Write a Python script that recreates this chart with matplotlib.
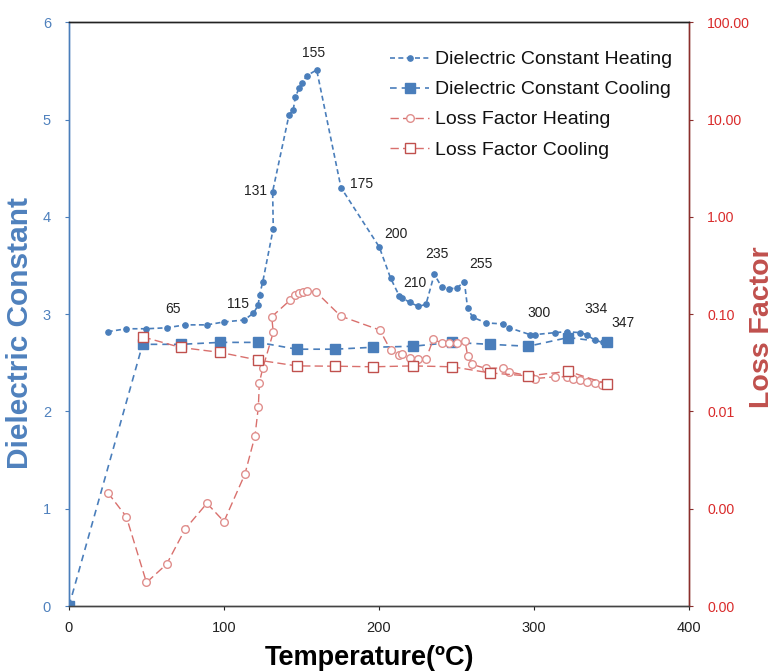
import matplotlib
matplotlib.use("Agg")
import matplotlib.pyplot as plt
from matplotlib.ticker import FixedLocator, FuncFormatter

plt.rcParams['font.family'] = ['Liberation Sans', 'DejaVu Sans']

# ---------------- data ----------------
heat_T_dc = [25, 37, 50, 63, 75, 89, 100, 113, 119, 122, 123, 125, 131.8, 131.4,
             142, 144.7, 146, 148.4, 150.5, 153.5, 159.8, 175.5, 200.2, 207.5, 213,
             214.6, 220, 225.4, 230.3, 235.7, 240.4, 245.4, 250.1, 255.1, 257.2, 260.4,
             269, 279.8, 284.1, 297.4, 300.6, 313.5, 321.1, 329.7, 334, 339.4, 344.7, 347]
heat_dc = [2.82, 2.85, 2.85, 2.86, 2.89, 2.89, 2.92, 2.94, 3.01, 3.09, 3.20, 3.33, 3.88, 4.26,
           5.05, 5.10, 5.23, 5.32, 5.38, 5.45, 5.51, 4.30, 3.69, 3.37, 3.19,
           3.17, 3.12, 3.08, 3.10, 3.41, 3.28, 3.26, 3.27, 3.33, 3.06, 2.97,
           2.91, 2.90, 2.86, 2.79, 2.79, 2.81, 2.82, 2.81, 2.79, 2.73, 2.71, 2.71]

heat_T_lf = [25, 37, 50, 63, 75, 89, 100, 113.5, 120, 122.2, 122.8, 125, 131.8, 130.8,
             142.6, 145.8, 148.6, 150.8, 153.8, 159.4, 175.3, 200.6, 207.5, 213.1, 214.6,
             220, 225.4, 230.3, 235, 240.4, 245.4, 250.1, 255.5, 257.2, 260.2, 269, 279.8,
             284.1, 297.4, 300.6, 313.5, 321.1, 325.4, 329.7, 334, 339.4, 343.7, 347]
heat_lf = [0.00147, 0.00083, 0.000175, 0.00027, 0.00062, 0.00114, 0.00074, 0.00227,
           0.0056, 0.0112, 0.0197, 0.0277, 0.065, 0.094,
           0.139, 0.159, 0.166, 0.169, 0.174, 0.169, 0.0955, 0.0686, 0.0427, 0.0379, 0.0394,
           0.0351, 0.0343, 0.0345, 0.055, 0.0507, 0.050, 0.0507, 0.0532, 0.0373, 0.0304,
           0.0277, 0.028, 0.0255, 0.0231, 0.0218, 0.0227, 0.0227, 0.0215, 0.021, 0.0202,
           0.0194, 0.0187, 0.019]

cool_T_dc = [0, 47.5, 72, 97.4, 122.2, 146.9, 171.6, 196.3, 221.7, 247.3, 271.6, 296.3, 322.1, 347.3]
cool_dc = [0, 2.69, 2.69, 2.71, 2.71, 2.64, 2.64, 2.66, 2.67, 2.71, 2.69, 2.67, 2.76, 2.71]

cool_T_lf = [47.5, 72, 97.4, 122.2, 146.9, 171.6, 196.3, 221.7, 247.3, 271.6, 296.3, 322.1, 347.3]
cool_lf = [0.0585, 0.0455, 0.0405, 0.0337, 0.0294, 0.0292, 0.0288, 0.0294, 0.0288,
           0.0249, 0.0232, 0.0259, 0.0191]

# temperature labels attached to heating dielectric points (index of point, text)
label_idx = [3, 7, 13, 20, 21, 22, 24, 29, 33, 40, 44, 47]
label_txt = ['65', '115', '131', '155', '175', '200', '210', '235', '255', '300', '334', '347']
label_off = [(6, 19), (-6, 16), (-17, 1), (-3, 17), (21, 4), (17, 13), (16, 13),
             (3, 20), (17, 18), (4, 22), (9, 26), (16, 19)]

x_ticks = [0, 100, 200, 300, 400]
dc_ticks = [0, 1, 2, 3, 4, 5, 6]
lf_ticks = [1e-4, 1e-3, 1e-2, 1e-1, 1, 10, 100]

# ---------------- style ----------------
BLUE = '#4A7EBB'
BLUE_TXT = '#4F81BD'
RED_LINE = '#D9706D'
RED_MK = '#E08F8D'
RED_TICK = '#D92B2B'
RED_TITLE = '#C0504D'
RED_SPINE = '#8B2E2C'

fig = plt.figure(figsize=(7.75, 6.72), dpi=100)
ax = fig.add_axes([0.089, 0.098, 0.800, 0.869])
ax2 = ax.twinx()

l1, = ax.plot(heat_T_dc, heat_dc, color=BLUE, lw=1.2, dashes=(3, 2),
              marker='o', ms=3.8, mfc=BLUE, mec=BLUE,
              label='Dielectric Constant Heating', zorder=3)
l2, = ax.plot(cool_T_dc, cool_dc, color=BLUE, lw=1.2, dashes=(4, 3),
              marker='s', ms=7.5, mfc=BLUE, mec=BLUE,
              label='Dielectric Constant Cooling', zorder=3)
l3, = ax2.plot(heat_T_lf, heat_lf, color=RED_LINE, lw=1.0, dashes=(6, 3),
               marker='o', ms=5.5, mfc='white', mec=RED_MK, mew=1.0,
               label='Loss Factor Heating', zorder=3)
l4, = ax2.plot(cool_T_lf, cool_lf, color=RED_LINE, lw=1.0, dashes=(6, 3),
               marker='s', ms=7.5, mfc='white', mec=RED_TITLE, mew=1.0,
               label='Loss Factor Cooling', zorder=3)

for i, t, (dx, dy) in zip(label_idx, label_txt, label_off):
    ax.annotate(t, (heat_T_dc[i], heat_dc[i]), xytext=(dx, dy),
                textcoords='offset pixels', ha='center', va='center',
                fontsize=10, color='#222222')

ax.set_xlim(0, 400)
ax.set_ylim(0, 6)
ax.xaxis.set_major_locator(FixedLocator(x_ticks))
ax.yaxis.set_major_locator(FixedLocator(dc_ticks))
ax2.set_yscale('log')
ax2.set_ylim(1e-4, 100)
ax2.yaxis.set_major_locator(FixedLocator(lf_ticks))
ax2.yaxis.set_minor_locator(FixedLocator([]))
ax2.yaxis.set_major_formatter(FuncFormatter(lambda v, p: f'{v:.2f}'))

ax.tick_params(axis='x', direction='out', length=3, labelsize=10.5,
               colors='#222222', pad=8)
ax.tick_params(axis='y', direction='out', length=3, labelsize=10.5,
               colors=BLUE_TXT, pad=10)
ax2.tick_params(axis='y', direction='out', length=3, labelsize=10.2,
                colors=RED_TICK, pad=10)

for a in (ax, ax2):
    a.spines['top'].set_color('#222222')
    a.spines['bottom'].set_color('#444444')
    a.spines['left'].set_color(BLUE)
    a.spines['right'].set_color(RED_SPINE)
    for s in a.spines.values():
        s.set_linewidth(1.0)
ax2.tick_params(axis='y', which='major', color=RED_SPINE)
ax.tick_params(axis='y', color=BLUE)

ax.set_xlabel('Temperature(ºC)', fontsize=19.5, fontweight='bold', color='black')
ax.xaxis.set_label_coords(0.484, -0.066)
ax.set_ylabel('Dielectric Constant', fontsize=21.5, fontweight='bold', color=BLUE_TXT)
ax.yaxis.set_label_coords(-0.056, 0.467)
ax2.set_ylabel('Loss Factor', fontsize=20.5, fontweight='bold', color=RED_TITLE)
ax2.yaxis.set_label_coords(1.097, 0.478)

leg = ax2.legend(handles=[l1, l2, l3, l4], loc='upper left',
                 bbox_to_anchor=(0.49, 0.981), frameon=False, fontsize=14,
                 handlelength=2.0, handletextpad=0.3, labelspacing=0.64)
for t in leg.get_texts():
    t.set_color('#111111')

fig.savefig('out.png', dpi=100)
